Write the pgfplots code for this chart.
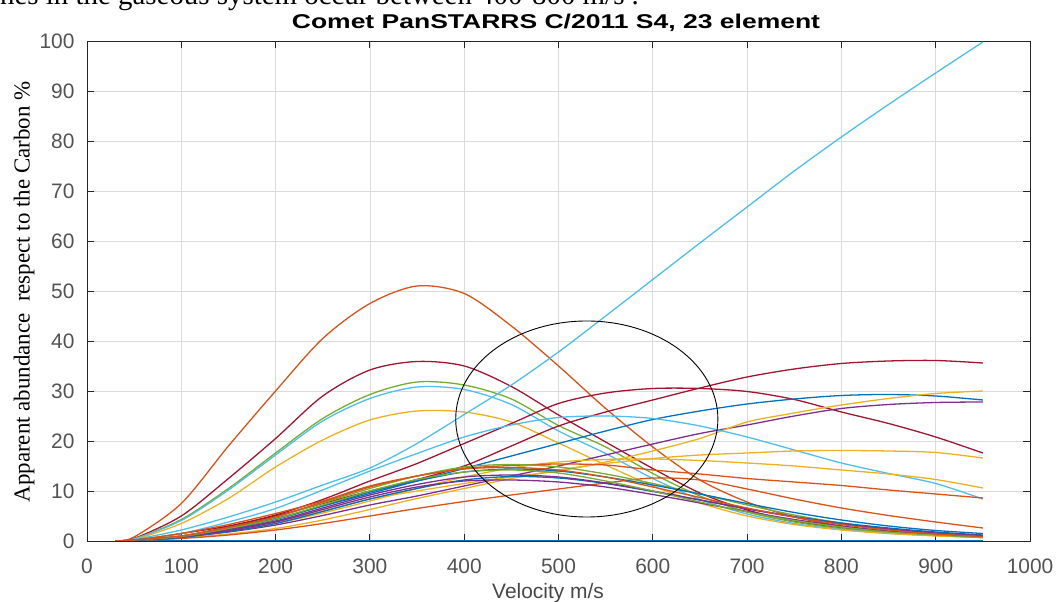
\documentclass[border=0pt]{standalone}
\usepackage{fontspec}
\setmainfont{Liberation Sans}
\newfontfamily\seriffont{Liberation Serif}
\newfontfamily\titlefont[FakeStretch=1.33]{Liberation Sans Bold}
\usepackage{pgfplots}
\usepackage{pgfplotstable}
\pgfplotsset{compat=1.18}

% MATLAB default line colour order
\definecolor{mblue}{rgb}{0,0.447,0.741}
\definecolor{morange}{rgb}{0.85,0.325,0.098}
\definecolor{myellow}{rgb}{0.929,0.694,0.125}
\definecolor{mpurple}{rgb}{0.494,0.184,0.556}
\definecolor{mgreen}{rgb}{0.466,0.674,0.188}
\definecolor{mlblue}{rgb}{0.301,0.745,0.933}
\definecolor{mdred}{rgb}{0.635,0.078,0.184}
\definecolor{axgray}{rgb}{0.15,0.15,0.15}
\definecolor{gridgray}{rgb}{0.86,0.86,0.86}

% Apparent abundance (% of carbon) against velocity (m/s), one column per element
\pgfplotstableread{
x   oA   drA  gA   lbA  yA   lbB  drB  drC  bA   pA   yB   lbC  yC   yD   oB   oC   gB   bB   bC   pB   pC   gC   oD
30  0    0    0    0    0    0    0    0    0    0    0    0    0    0    0    0    0    0    0    0    0    0    0
50  0.8  0.5  0.4  0.4  0.3  0.3  0.1  0.1  0.1  0.1  0.1  0.2  0.1  0.1  0.2  0.1  0.2  0.2  0.1  0.2  0.2  0.2  0.2
100 7.5  5    4.3  4.1  3.5  2.2  1.0  1.5  1.0  0.8  1.0  1.5  0.6  0.8  1.5  0.5  1.0  0.9  0.7  0.9  0.8  0.9  1.0
150 19   12.5 10.5 10.2 8.5  4.8  2.8  3.0  2.5  1.8  2.2  3.8  1.4  2.0  3.3  1.2  2.7  2.4  1.9  2.3  2.1  2.5  2.7
200 30   20.5 17.6 17.2 14.8 7.8  5.0  5.2  4.5  3.2  3.8  6.5  2.5  3.5  5.5  2.2  4.8  4.3  3.5  4.0  3.8  4.4  4.8
250 40.5 29   24.5 24   20.2 11.2 7.5  8.3  7.0  5.1  6.0  10.2 4.2  5.6  8.0  3.5  7.6  7.0  5.9  6.6  6.3  7.2  7.8
300 47.5 34.2 29.3 28.5 24.2 14.6 10   12   9.5  7.2  8.4  14   6.3  8    11   5    10.5 9.8  8.4  9.2  8.8  10   10.8
350 51   35.9 31.8 30.8 26   19.5 12.3 15.5 12   9    10   17.5 8.5  10.5 13   6.5  13   12   10.5 11.3 10.8 12.3 13
400 49.5 35   31.2 30.3 25.8 25.3 15   19.5 14.5 11   11.5 20.8 10.5 12.8 14.5 7.9  14.8 13.8 12.2 12.8 12   13.8 14.4
450 43   30.9 28.4 27.3 23.8 31.2 19   23.5 17   13   12.8 23.2 12.5 14.6 15.1 9.2  15.3 14.4 12.9 13.2 12.2 14.2 14.7
500 35   25.2 23.1 22   19.6 37.8 23   27.5 19.5 15   14   24.7 14.2 15.8 15.4 10.4 14.8 14   12.6 12.8 11.8 13.6 14.2
550 26.5 19.8 18.8 17.5 15.2 45   25.8 29.6 22   17.2 15.8 25   15.5 16.3 15.2 11.6 13.4 12.8 11.5 11.6 10.8 12   12.8
600 18.8 14.5 13.5 12.5 11   52.3 28.2 30.5 24.3 19.4 18   24.5 16.5 16.4 14.2 12.6 11.5 11.2 9.9  10   9.3  10   10.8
650 12.2 9.6  9    8.3  7.6  59.6 30.6 30.5 26   21.5 20.5 23   17.2 16.1 13.4 12.2 9.4  9.4  8.2  8.2  7.6  7.8  8.7
700 7.8  6.2  5.8  5.4  5    66.8 32.8 29.9 27.4 23.2 23.8 20.8 17.6 15.6 12.5 10.4 7.2  7.5  6.5  6.4  5.9  5.8  6.6
750 4.8  4    3.8  3.5  3.3  74   34.4 28.3 28.4 25   25.6 18.2 18   15   11.8 8.4  5.2  5.7  4.9  4.8  4.3  4.1  4.8
800 3    2.6  2.5  2.3  2.2  80.8 35.5 25.8 29.1 26.5 27.2 15.6 18.1 14.2 11.1 6.6  3.6  4.2  3.6  3.4  3    2.8  3.3
850 1.8  1.8  1.7  1.5  1.5  87.3 36   23.5 29.3 27.3 28.5 13.5 18   13.4 10.2 5.1  2.4  3    2.6  2.4  2    1.8  2.2
900 1.1  1.3  1.2  1.1  1    93.6 36.1 20.8 29   27.7 29.5 11.5 17.7 12.3 9.4  3.8  1.6  2.1  1.8  1.6  1.3  1.2  1.4
950 0.7  1.0  0.9  0.7  0.7  99.8 35.6 17.6 28.2 27.8 30   8.4  16.6 10.6 8.6  2.6  1.0  1.5  1.2  1.1  0.8  0.7  0.9
}\abundance

\begin{document}
\begin{tikzpicture}[x=1bp,y=1bp]
\useasboundingbox (0,0) rectangle (1059,602);

% running text of the page above the figure
\node[anchor=base west, inner sep=0pt, font=\seriffont\fontsize{29}{29}\selectfont]
  at (0,597) {nes in the gaseous system occur between 400-800 m/s .};

\begin{axis}[
  at={(87bp,61bp)}, anchor=south west,
  width=943bp, height=500bp, scale only axis,
  xmin=0, xmax=1000, ymin=0, ymax=100,
  xtick={0,100,...,1000}, ytick={0,10,...,100},
  xtick pos=both, ytick pos=both,
  xticklabel pos=bottom, yticklabel pos=left,
  tick align=inside, major tick length=7bp,
  grid=major,
  major grid style={color=gridgray, line width=0.8pt},
  axis line style={color=axgray, line width=0.9pt},
  tick style={color=axgray, line width=0.9pt},
  ticklabel style={font=\fontsize{21}{21}\selectfont, color=axgray!80},
  /pgf/number format/assume math mode=true,
  /pgf/number format/1000 sep={},
  scaled ticks=false,
  yticklabel style={xshift=-9bp},
  xticklabel style={yshift=-14bp},
  every axis plot/.append style={line width=1.3pt, smooth, no markers},
]
\addplot[mblue, line width=2pt] coordinates {(30,0) (950,0)};
\addplot[morange] table[x=x,y=oA] \abundance;
\addplot[mdred]   table[x=x,y=drA] \abundance;
\addplot[mgreen]  table[x=x,y=gA] \abundance;
\addplot[mlblue]  table[x=x,y=lbA] \abundance;
\addplot[myellow] table[x=x,y=yA] \abundance;
\addplot[mlblue]  table[x=x,y=lbB] \abundance;
\addplot[mdred]   table[x=x,y=drB] \abundance;
\addplot[mdred]   table[x=x,y=drC] \abundance;
\addplot[mblue]   table[x=x,y=bA] \abundance;
\addplot[mpurple] table[x=x,y=pA] \abundance;
\addplot[myellow] table[x=x,y=yB] \abundance;
\addplot[mlblue]  table[x=x,y=lbC] \abundance;
\addplot[myellow] table[x=x,y=yC] \abundance;
\addplot[myellow] table[x=x,y=yD] \abundance;
\addplot[morange] table[x=x,y=oB] \abundance;
\addplot[morange] table[x=x,y=oC] \abundance;
\addplot[mgreen]  table[x=x,y=gB] \abundance;
\addplot[mblue]   table[x=x,y=bB] \abundance;
\addplot[mblue]   table[x=x,y=bC] \abundance;
\addplot[mpurple] table[x=x,y=pB] \abundance;
\addplot[mpurple] table[x=x,y=pC] \abundance;
\addplot[mgreen]  table[x=x,y=gC] \abundance;
\addplot[morange] table[x=x,y=oD] \abundance;

% highlighted velocity range
\draw[black, line width=0.9pt] (axis cs:530,24.4) ellipse [x radius=139, y radius=19.6];
\end{axis}

\node[anchor=base, inner sep=0pt, font=\titlefont\fontsize{20}{20}\selectfont] at (556,573)
  {Comet PanSTARRS C/2011 S4, 23 element};
\node[anchor=base, font=\fontsize{21}{21}\selectfont, color=axgray!85] at (548,3) {Velocity m/s};
\node[rotate=90, anchor=center, font=\seriffont\fontsize{23}{23}\selectfont] at (24,310)
  {Apparent abundance~ respect to the Carbon \%};
\end{tikzpicture}
\end{document}
